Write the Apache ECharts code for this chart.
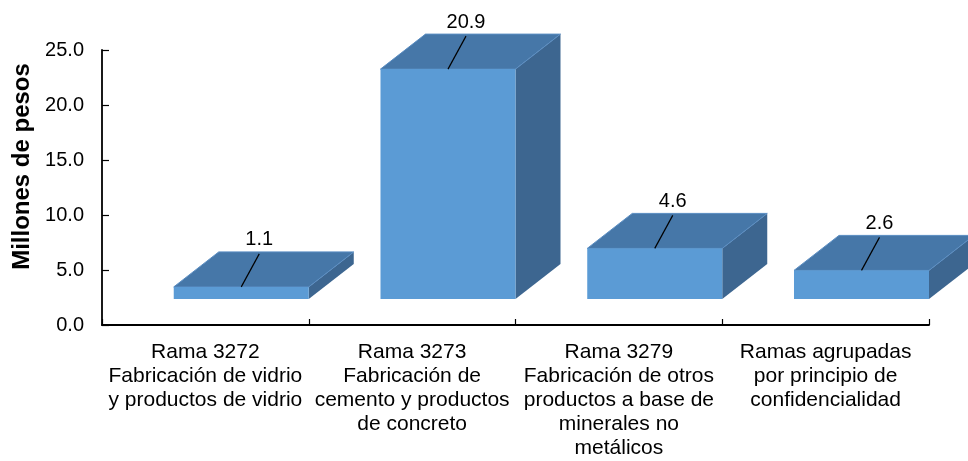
<!DOCTYPE html>
<html>
<head>
<meta charset="utf-8">
<script src="https://cdn.jsdelivr.net/npm/echarts@6/dist/echarts.min.js"></script>
<style>
    html, body { margin: 0; padding: 0; background: #fff; }
    #chart { width: 968px; height: 461px; }
</style>
</head>
<body>
<div id="chart"></div>
<script>
var categories = [
    'Rama 3272\nFabricación de vidrio\ny productos de vidrio',
    'Rama 3273\nFabricación de\ncemento y productos\nde concreto',
    'Rama 3279\nFabricación de otros\nproductos a base de\nminerales no\nmetálicos',
    'Ramas agrupadas\npor principio de\nconfidencialidad'
];
var values = [1.1, 20.9, 4.6, 2.6];
var yTicks = [0, 5, 10, 15, 20, 25];

var frontColor = '#5b9bd5';
var topColor = '#4677a8';
var sideColor = '#3d6690';
var font = '"Liberation Sans", Arial, sans-serif';

// excel-like 3d box: floor lift, depth offset
var floorLift = 26;
var depthX = 45;
var depthY = 35;

function renderBox(params, api) {
    var i = api.value(0);
    var v = api.value(1);
    var base = api.coord([i, 0]);
    var top = api.coord([i, v]);
    var band = api.size([1, 0])[0];
    var right = base[0] + band / 2;
    var left = right - band * 0.653;
    var yb = base[1] - floorLift;
    var yt = top[1] - floorLift;
    var cx = (left + right) / 2;
    return {
        type: 'group',
        children: [
            {
                type: 'polygon',
                shape: {points: [[right, yt], [right + depthX, yt - depthY], [right + depthX, yb - depthY], [right, yb]]},
                style: {fill: sideColor}
            },
            {
                type: 'polygon',
                shape: {points: [[left, yt], [left + depthX, yt - depthY], [right + depthX, yt - depthY], [right, yt]]},
                style: {fill: topColor, stroke: '#5a8dc2', lineWidth: 1}
            },
            {
                type: 'rect',
                shape: {x: left, y: yt, width: right - left, height: yb - yt},
                style: {fill: frontColor}
            },
            {
                type: 'line',
                shape: {x1: cx, y1: yt, x2: cx + 18, y2: yt - 33},
                style: {stroke: '#000', lineWidth: 1.2}
            },
            {
                type: 'text',
                x: cx + 18,
                y: yt - 47,
                style: {
                    text: v.toFixed(1),
                    fill: '#000',
                    font: '20px ' + font,
                    align: 'center',
                    verticalAlign: 'middle'
                }
            }
        ]
    };
}

var option = {
    animation: false,
    grid: {left: 102, right: 39, top: 50, bottom: 136},
    xAxis: {
        type: 'category',
        data: categories,
        boundaryGap: true,
        axisLine: {lineStyle: {color: '#000', width: 1.8}},
        axisTick: {show: true, inside: true, length: 6, lineStyle: {color: '#000', width: 1.2}},
        axisLabel: {
            interval: 0,
            color: '#000',
            fontFamily: font,
            fontSize: 21,
            lineHeight: 24,
            margin: 15,
            align: 'center'
        }
    },
    yAxis: {
        type: 'value',
        min: yTicks[0],
        max: yTicks[yTicks.length - 1],
        interval: 5,
        name: 'Millones de pesos',
        nameLocation: 'middle',
        nameRotate: 90,
        nameGap: 67,
        nameTextStyle: {
            color: '#000',
            fontFamily: font,
            fontSize: 24,
            fontWeight: 'bold',
            padding: [0, 0, 0, 42]
        },
        axisLine: {show: true, lineStyle: {color: '#000', width: 1.8}},
        axisTick: {show: true, inside: true, length: 7, lineStyle: {color: '#000', width: 1.2}},
        splitLine: {show: false},
        axisLabel: {
            color: '#000',
            fontFamily: font,
            fontSize: 20,
            margin: 18,
            formatter: function (val) {
                return val.toFixed(1);
            }
        }
    },
    series: [
        {
            type: 'custom',
            renderItem: renderBox,
            clip: false,
            encode: {x: 0, y: 1},
            data: values.map(function (v, i) {
                return [i, v];
            })
        }
    ]
};

echarts.init(document.getElementById('chart')).setOption(option);
</script>
</body>
</html>
